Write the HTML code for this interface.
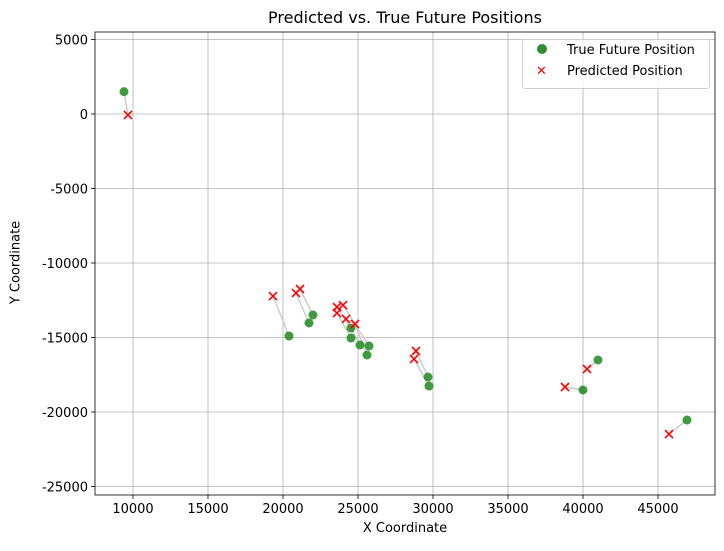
<!DOCTYPE html>
<html><head><meta charset="utf-8"><style>
body{margin:0;background:#fff;font-family:"DejaVu Sans","Liberation Sans",sans-serif}
svg text{font-family:"DejaVu Sans","Liberation Sans",sans-serif}
</style></head><body>
<svg id="c" width="724" height="547" xmlns="http://www.w3.org/2000/svg"></svg>
<script>
const trueX=[9400,20400,22000,21733,24533,24533,25133,25733,25600,29667,29733,40000,41000,46933];
const trueY=[1500,-14900,-13490,-14027,-14362,-15034,-15503,-15570,-16174,-17651,-18255,-18523,-16510,-20537];
const predX=[9667,19333,21133,20867,23600,23600,24200,24000,24800,28867,28733,38800,40267,45733];
const predY=[-67,-12215,-11745,-12013,-12953,-13356,-13758,-12819,-14094,-15906,-16443,-18322,-17114,-21477];
const xTicks=[10000,15000,20000,25000,30000,35000,40000,45000];
const yTicks=[5000,0,-5000,-10000,-15000,-20000,-25000];
const L=95,R=715,T=32,B=495,xMin=7467,xMax=48800,yMin=-25570,yMax=5503;
const sx=v=>L+(v-xMin)/(xMax-xMin)*(R-L);
const sy=v=>B-(v-yMin)/(yMax-yMin)*(B-T);
const svg=document.getElementById('c');const NS='http://www.w3.org/2000/svg';
function mk(t,a,p){const e=document.createElementNS(NS,t);for(const k in a)e.setAttribute(k,a[k]);(p||svg).appendChild(e);return e;}
let e;
xTicks.forEach(v=>{const x=sx(v);
e=mk('line',{x1:x,x2:x,y1:T,y2:B,stroke:'#b0b0b0','stroke-width':0.8});


mk('line',{x1:x,x2:x,y1:B,y2:B+4,stroke:'#000','stroke-width':0.8});
e=mk('text',{x:x,y:B+18,'text-anchor':'middle','font-size':13});e.textContent=v;

});
yTicks.forEach(v=>{const y=sy(v);
e=mk('line',{x1:L,x2:R,y1:y,y2:y,stroke:'#b0b0b0','stroke-width':0.8});


mk('line',{x1:L-4,x2:L,y1:y,y2:y,stroke:'#000','stroke-width':0.8});
e=mk('text',{x:L-7,y:y+5,'text-anchor':'end','font-size':13});e.textContent=v;

});
trueX.forEach((v,i)=>{e=mk('line',{x1:sx(v),y1:sy(trueY[i]),x2:sx(predX[i]),y2:sy(predY[i]),stroke:'#cccccc','stroke-width':1.5});

});
trueX.forEach((v,i)=>{e=mk('circle',{cx:sx(v),cy:sy(trueY[i]),r:4.5,fill:'#208a20','fill-opacity':0.85});

});
predX.forEach((v,i)=>{const x=sx(v),y=sy(predY[i]);e=mk('path',{d:`M${x-4},${y-4}L${x+4},${y+4}M${x-4},${y+4}L${x+4},${y-4}`,stroke:'#ff0000','stroke-width':1.6});

});
e=mk('rect',{x:L,y:T,width:R-L,height:B-T,fill:'none',stroke:'#000','stroke-width':0.8});


</script>
<div style="position:absolute;left:0;top:0;width:724px;height:547px;pointer-events:none">
<div style="position:absolute;left:95px;width:620px;top:8px;text-align:center;font-size:16px">Predicted vs. True Future Positions</div>
<div style="position:absolute;left:95px;width:620px;top:521px;text-align:center;font-size:13px">X Coordinate</div>
<div style="position:absolute;left:-34px;top:255px;width:100px;text-align:center;font-size:13px;transform:rotate(-90deg)">Y Coordinate</div>
<div style="position:absolute;left:522px;top:39px;width:186px;height:48px;border:1px solid #d0d0d0;border-radius:3px;background:rgba(255,255,255,0.8);font-size:13px">
<div style="position:absolute;left:14px;top:3px;white-space:nowrap"><span style="display:inline-block;width:10px;height:10px;border-radius:50%;background:#2e8f2e;margin-right:20px"></span>True Future Position</div>
<div style="position:absolute;left:13px;top:24px;white-space:nowrap"><span style="display:inline-block;width:12px;color:red;font-weight:bold;margin-right:19px">✕</span>Predicted Position</div>
</div></div>
</body></html>
